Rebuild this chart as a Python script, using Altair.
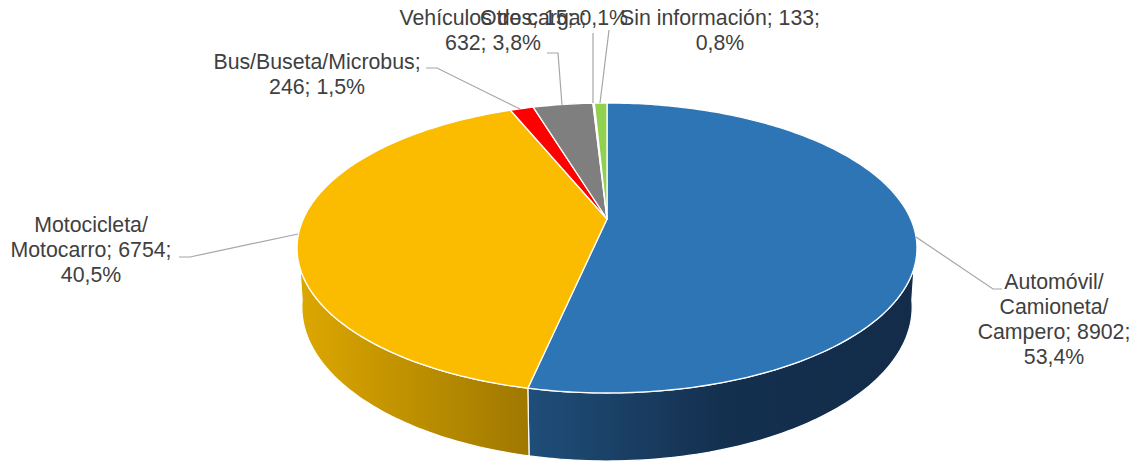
import math
import altair as alt

categories = ["Automóvil/Camioneta/Campero", "Motocicleta/Motocarro", "Bus/Buseta/Microbus",
              "Vehículos de carga", "Otros", "Sin información"]
values = [8902, 6754, 246, 632, 15, 133]
top_colors = ["#2E75B6", "#FBBC00", "#FF0000", "#7F7F7F", "#E7E6E6", "#92D050"]
side_stops = [["#1F4E79", "#14304F", "#122C49"], ["#DCA700", "#9F7800"], None, None, None, None]
label_lines = [["Automóvil/", "Camioneta/", "Campero; 8902;", "53,4%"],
               ["Motocicleta/", "Motocarro; 6754;", "40,5%"],
               ["Bus/Buseta/Microbus;", "246; 1,5%"],
               ["Vehículos de carga;", "632; 3,8%"],
               ["Otros; 15; 0,1%"],
               ["Sin información; 133;", "0,8%"]]
label_anchor = [(1054, 283), (91, 226), (317, 63), (493, 19), (554, 19), (720, 19)]
leader_bends = [[(916, 237), (993, 289), (1002, 289)],
                [(298, 234), (190, 257), (179, 257)],
                [(520, 109), (437, 68), (426, 68)],
                [(562, 105), (558, 53), (547, 53)],
                [(593, 103), (593, 33)],
                [(600, 103), (609, 30)]]

# perspective model of the tilted disc
CX, K = 607.0, -0.2
TOP = dict(a=303.7, b=95.4, c=219.0)
BOT = dict(a=299.0, b=92.6, c=276.2)
# part of the rim that shows from the front (fractions of the turn, clockwise from 12 o'clock)
RIM_TOP = (0.3033, 0.6967)
RIM_BOT = (0.275, 0.725)


def project(frac, disc):
    t = 2 * math.pi * frac
    u, v = math.sin(t), -math.cos(t)
    w = 1 + K * v
    return CX + disc["a"] * u / w, (disc["b"] * v + disc["c"]) / w


def arc(f0, f1, disc):
    n = max(2, int(abs(f1 - f0) * 360))
    return [project(f0 + (f1 - f0) * j / n, disc) for j in range(n + 1)]


total = sum(values)
X = alt.X("x:Q", scale=alt.Scale(domain=[8, 1131]), axis=None)
Y = alt.Y("y:Q", scale=alt.Scale(domain=[463, 8]), axis=None)
ORDER = alt.Order("i:Q")


def polygon(points, **mark):
    rows = [{"x": p[0], "y": p[1], "i": i} for i, p in enumerate(points + points[:1])]
    return alt.Chart(alt.Data(values=rows)).mark_line(interpolate="linear", **mark).encode(x=X, y=Y, order=ORDER)


walls, faces = [], []
start = 0.0
for val, col, stops in zip(values, top_colors, side_stops):
    end = start + val / total
    if stops:
        fill = alt.Gradient(gradient="linear", x1=0, x2=1, y1=0, y2=0,
                            stops=[alt.GradientStop(offset=o / (len(stops) - 1), color=c) for o, c in enumerate(stops)])
        up = arc(max(start, RIM_TOP[0]), min(end, RIM_TOP[1]), TOP)
        lo = arc(min(end, RIM_BOT[1]), max(start, RIM_BOT[0]), BOT)
        walls.append(polygon(up + lo, fill=fill, stroke="white", strokeWidth=1.2))
    faces.append(polygon(arc(start, end, TOP) + [(CX, TOP["c"])], fill=col, stroke="white",
                         strokeWidth=1.3, strokeJoin="round"))
    start = end

leaders = []
for k, pts in enumerate(leader_bends):
    leaders += [{"x": p[0], "y": p[1], "i": i, "k": k} for i, p in enumerate(pts)]
leader_layer = alt.Chart(alt.Data(values=leaders)).mark_line(color="#A6A6A6", strokeWidth=1.2).encode(
    x=X, y=Y, order=ORDER, detail="k:N")

texts = []
for lines, (ax, ay) in zip(label_lines, label_anchor):
    for j, s in enumerate(lines):
        texts.append({"x": ax, "y": ay + j * 25, "t": s})
text_layer = alt.Chart(alt.Data(values=texts)).mark_text(
    font="Liberation Sans", fontSize=21.3, color="#404040", align="center", baseline="middle").encode(x=X, y=Y, text="t:N")

chart = alt.layer(*walls, *faces, leader_layer, text_layer).properties(
    width=1123, height=455, padding=0, autosize=alt.AutoSizeParams(type="none"),
    background="white").configure_view(stroke=None)
chart.save("out.html", embed_options={"renderer": "svg", "actions": False})
